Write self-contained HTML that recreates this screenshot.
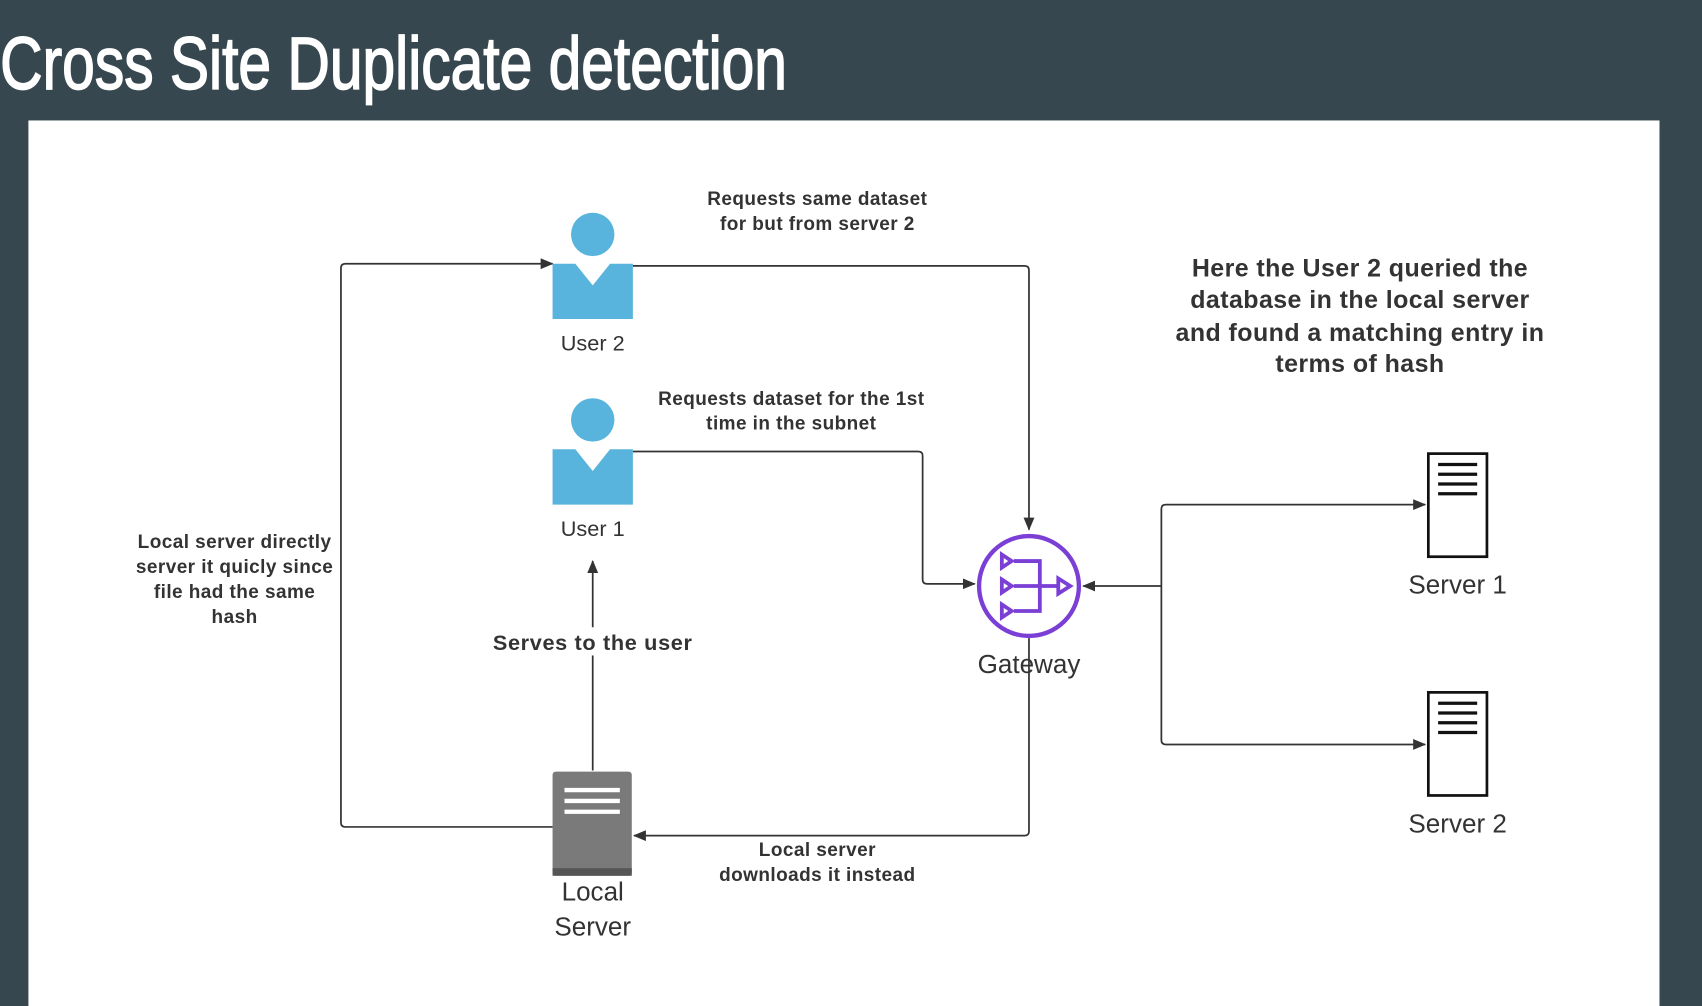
<!DOCTYPE html>
<html><head><meta charset="utf-8"><style>
html,body{margin:0;padding:0;background:#37474f;width:1702px;height:1006px;overflow:hidden}
svg{display:block}
text{font-family:"Liberation Sans",sans-serif;fill:#333}
.b{font-weight:bold}
</style></head><body>
<svg width="1702" height="1006" viewBox="0 0 1568 927" xmlns="http://www.w3.org/2000/svg">
<defs>
<marker id="a" markerWidth="12" markerHeight="10" refX="11" refY="5" orient="auto" markerUnits="userSpaceOnUse"><path d="M0,0 L12,5 L0,10 Z" fill="#333"/></marker>
</defs>
<rect width="1568" height="927" fill="#37474f"/>
<text x="0" y="82" font-size="68" textLength="725" lengthAdjust="spacingAndGlyphs" stroke="#fff" stroke-width="1.5" style="fill:#fff;font-family:'Liberation Sans Narrow','Liberation Sans',sans-serif">Cross Site Duplicate detection</text>
<rect x="26" y="111" width="1503" height="816" fill="#fff"/>

<g fill="none" stroke="#333" stroke-width="1.6">
<path d="M583,245 H944 Q948,245 948,249 V488" marker-end="url(#a)"/>
<path d="M583,416 H846 Q850,416 850,420 V534 Q850,538 854,538 H898" marker-end="url(#a)"/>
<path d="M948,588 V766 Q948,770 944,770 H584" marker-end="url(#a)"/>
<path d="M546,710 V517" marker-end="url(#a)"/>
<path d="M509,762 H318 Q314,762 314,758 V247 Q314,243 318,243 H509" marker-end="url(#a)"/>
<path d="M1070,540 H998" marker-end="url(#a)"/>
<path d="M1070,540 V469 Q1070,465 1074,465 H1313" marker-end="url(#a)"/>
<path d="M1070,540 V682 Q1070,686 1074,686 H1313" marker-end="url(#a)"/>
</g>

<g fill="#58b4dc">
<circle cx="546" cy="216" r="20"/>
<path d="M509,243 H530 L546,263 L562,243 H583 V294 H509 Z"/>
<circle cx="546" cy="387" r="20"/>
<path d="M509,414 H530 L546,434 L562,414 H583 V465 H509 Z"/>
</g>
<text x="546" y="323" font-size="20" text-anchor="middle">User 2</text>
<text x="546" y="494" font-size="20" text-anchor="middle">User 1</text>

<circle cx="948" cy="540" r="46" fill="#fff" stroke="#7b3fd6" stroke-width="4"/>
<g fill="none" stroke="#7b3fd6" stroke-width="3.5">
<path d="M923,511 L932,517 L923,523 Z"/><path d="M923,534 L932,540 L923,546 Z"/><path d="M923,557 L932,563 L923,569 Z"/>
<path d="M934,517 H958 V563 H934 M934,540 H975"/><path d="M975,533 L986,540 L975,547 Z"/>
</g>
<text x="948" y="620" font-size="24" text-anchor="middle">Gateway</text>

<g fill="#fff" stroke="#111" stroke-width="2.5">
<rect x="1316" y="418" width="54" height="95"/><rect x="1316" y="638" width="54" height="95"/>
</g>
<g stroke="#111" stroke-width="3">
<path d="M1325,428 H1361 M1325,437 H1361 M1325,446 H1361 M1325,455 H1361"/>
<path d="M1325,648 H1361 M1325,657 H1361 M1325,666 H1361 M1325,675 H1361"/>
</g>
<text x="1343" y="547" font-size="24" text-anchor="middle">Server 1</text>
<text x="1343" y="767" font-size="24" text-anchor="middle">Server 2</text>

<rect x="509" y="711" width="73" height="96" rx="3" fill="#7a7a7a"/>
<rect x="509" y="800" width="73" height="7" fill="#555"/>
<g stroke="#fff" stroke-width="4"><path d="M520,728 H571 M520,738 H571 M520,748 H571"/></g>
<text x="546" y="830" font-size="24" text-anchor="middle">Local</text>
<text x="546" y="862" font-size="24" text-anchor="middle">Server</text>

<g class="b" font-size="17.5" text-anchor="middle" letter-spacing="0.4">
<text x="753" y="189" class="b">Requests same dataset</text>
<text x="753" y="212" class="b">for but from server 2</text>
<text x="729" y="373" class="b">Requests dataset for the 1st</text>
<text x="729" y="396" class="b">time in the subnet</text>
<text x="216" y="505" class="b">Local server directly</text>
<text x="216" y="528" class="b">server it quicly since</text>
<text x="216" y="551" class="b">file had the same</text>
<text x="216" y="574" class="b">hash</text>
<text x="753" y="789" class="b">Local server</text>
<text x="753" y="812" class="b">downloads it instead</text>
</g>
<rect x="448" y="578" width="196" height="26" fill="#fff"/>
<text x="546" y="599" font-size="20" text-anchor="middle" class="b" letter-spacing="0.6">Serves to the user</text>
<g font-size="23" text-anchor="middle" letter-spacing="0.4">
<text x="1253" y="255" class="b">Here the User 2  queried the</text>
<text x="1253" y="284" class="b">database in the local server</text>
<text x="1253" y="314" class="b">and found a matching entry in</text>
<text x="1253" y="343" class="b">terms of hash</text>
</g>
</svg>
</body></html>
